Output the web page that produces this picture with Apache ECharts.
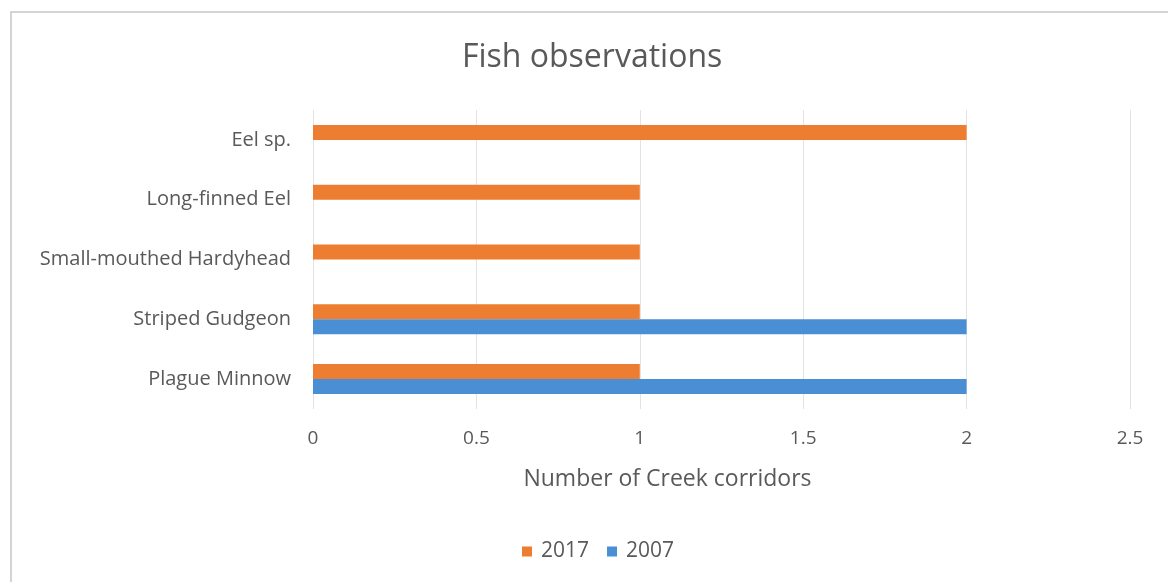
<!DOCTYPE html>
<html>
<head>
<meta charset="utf-8">
<script src="https://cdn.jsdelivr.net/npm/echarts@6/dist/echarts.min.js"></script>
<style>
html,body{margin:0;padding:0;background:#fff;}
#frame{position:absolute;left:10px;top:11px;width:1158px;height:571px;border-left:2px solid #d4d4d4;border-top:2px solid #d4d4d4;box-sizing:border-box;}
#chart{position:absolute;left:0;top:0;width:1168px;height:582px;}
</style>
</head>
<body>
<div id="frame"></div>
<div id="chart"></div>
<script>
const categories = ['Plague Minnow', 'Striped Gudgeon', 'Small-mouthed Hardyhead', 'Long-finned Eel', 'Eel sp.'];
const values2017 = [1, 1, 1, 1, 2];
const values2007 = [2, 2, 0, 0, 0];
const xTicks = [0, 0.5, 1, 1.5, 2, 2.5];

const chart = echarts.init(document.getElementById('chart'), null, {renderer: 'canvas'});
const font = '"Open Sans", "Noto Sans", sans-serif';
chart.setOption({
  backgroundColor: 'transparent',
  textStyle: {fontFamily: font},
  title: {
    text: 'Fish observations',
    left: 457,
    top: 37,
    textStyle: {fontSize: 32, fontWeight: 'normal', color: '#595959', fontFamily: font}
  },
  legend: {
    data: ['2017', '2007'],
    bottom: 15,
    left: 517,
    itemWidth: 10,
    itemHeight: 10,
    itemGap: 18,
    icon: 'rect',
    textStyle: {fontSize: 21, color: '#595959', fontFamily: font, padding: [0, 0, 0, 4]}
  },
  grid: {left: 313, right: 38, top: 110, bottom: 173, containLabel: false},
  xAxis: {
    type: 'value',
    min: xTicks[0],
    max: xTicks[xTicks.length - 1],
    interval: 0.5,
    name: 'Number of Creek corridors',
    nameLocation: 'middle',
    nameGap: 59,
    nameTextStyle: {fontSize: 23, color: '#595959', fontFamily: font, padding: [0, 108, 0, 0]},
    axisLine: {show: false},
    axisTick: {show: false},
    axisLabel: {fontSize: 19, color: '#595959', margin: 20, fontFamily: font},
    splitLine: {show: true, lineStyle: {color: '#e3e3e3', width: 1}}
  },
  yAxis: {
    type: 'category',
    data: categories,
    axisLine: {show: false},
    axisTick: {show: false},
    axisLabel: {fontSize: 20, color: '#595959', margin: 22, fontFamily: font, padding: [5, 0, 0, 0]}
  },
  series: [
    {
      name: '2017',
      type: 'bar',
      data: values2017,
      barWidth: 15,
      barGap: '0%',
      itemStyle: {color: '#ed7d31'}
    },
    {
      name: '2007',
      type: 'bar',
      data: values2007,
      barWidth: 15,
      barGap: '0%',
      itemStyle: {color: '#4a8fd4'}
    }
  ]
});
</script>
</body>
</html>
